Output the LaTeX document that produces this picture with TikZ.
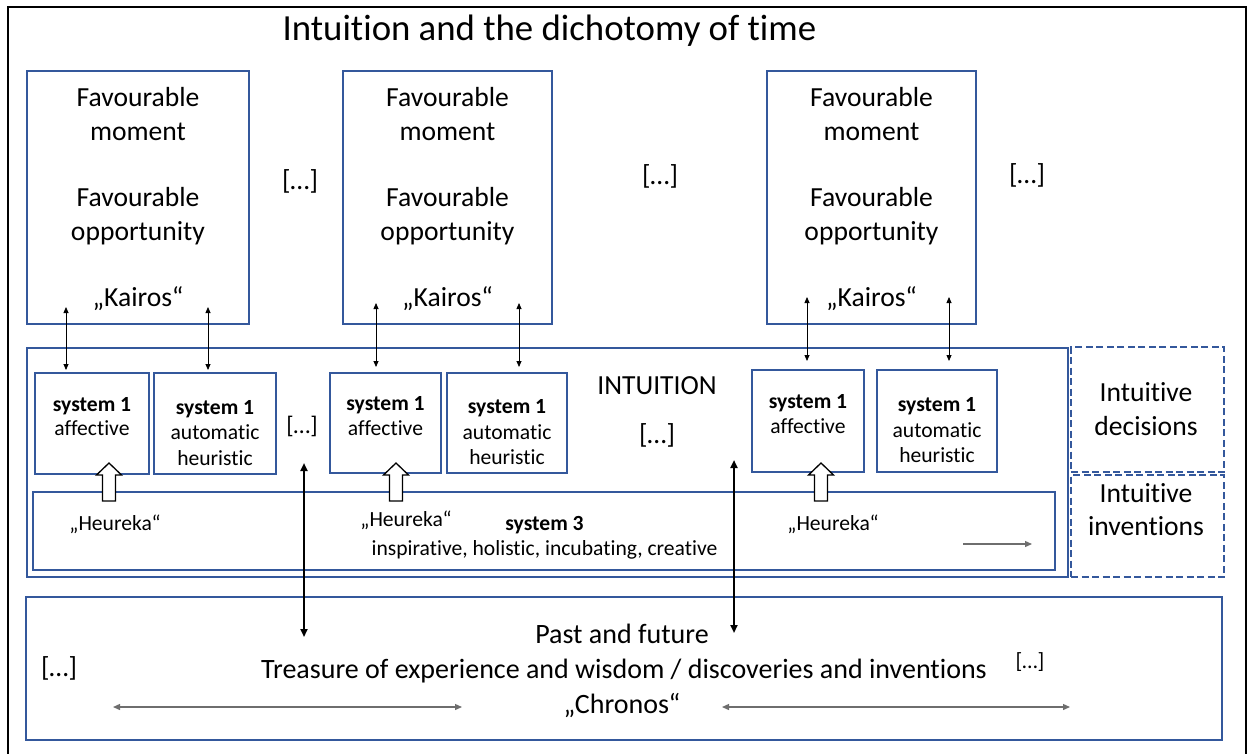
\documentclass[tikz,border=0pt]{standalone}
\usepackage{fontspec}
\setmainfont{Carlito}[Ligatures=NoCommon]
\usetikzlibrary{arrows.meta,calc}
\definecolor{bblue}{RGB}{52,88,156}
\definecolor{agrey}{RGB}{110,110,110}
\tikzset{
  bx/.style={draw=bblue, line width=1.4pt, inner sep=0pt, rectangle},
  dbx/.style={draw=bblue, line width=2.2pt, dash pattern=on 7pt off 3.5pt, inner sep=0pt, rectangle},
  big/.style={font=\fontsize{27.6}{33}\selectfont, anchor=base, inner sep=0pt},
  bigb/.style={font=\fontsize{28}{33}\selectfont, anchor=base, inner sep=0pt},
  med/.style={font=\fontsize{21.6}{25}\selectfont, anchor=base, inner sep=0pt},
  thinarr/.style={{Triangle[length=6pt,width=5pt]}-{Triangle[length=6pt,width=5pt]}, line width=0.8pt},
  longarr/.style={{Triangle[length=8pt,width=7pt]}-{Triangle[length=8pt,width=7pt]}, line width=2pt},
  greyarr/.style={draw=agrey, line width=1.3pt, {Triangle[length=7pt,width=6pt]}-{Triangle[length=7pt,width=6pt]}},
  greyone/.style={draw=agrey, line width=1.3pt, -{Triangle[length=7pt,width=6pt]}},
  hollow/.style={draw=black, line width=1.3pt, fill=white, line join=miter}
}
\begin{document}
\begin{tikzpicture}[x=1pt,y=-1pt]
\useasboundingbox (0,0) rectangle (1250,753);
% outer frame
\node[draw=black, line width=2pt, inner sep=0pt, minimum width=1238pt, minimum height=770pt, anchor=north west] (frame) at (7,6) {};
% title
\node[font=\fontsize{36.8}{44}\selectfont, anchor=base, inner sep=0pt] (title) at (549.5,40.7) {Intuition and the dichotomy of time};

% Kairos boxes
\node[bx, minimum width=222pt, minimum height=253pt] (k1) at (138,197.5) {};
\node[bx, minimum width=209pt, minimum height=253pt] (k2) at (447.5,197.5) {};
\node[bx, minimum width=209pt, minimum height=253pt] (k3) at (871.5,197.5) {};
\foreach \b/\cx in {1/138,2/447.5,3/871.5}{
  \node[big] (k\b a) at (\cx,106.7) {Favourable};
  \node[big] (k\b b) at (\cx,140) {moment};
  \node[big] (k\b c) at (\cx,206.7) {Favourable};
  \node[big] (k\b d) at (\cx,240) {opportunity};
  \node[big] (k\b e) at (\cx,306.6) {„Kairos“};
}
\node[big] (dots1) at (300,189) {[…]};
\node[big] (dots2) at (660,184.5) {[…]};
\node[big] (dots3) at (1027,183.5) {[…]};

% intuition box
\node[bx, minimum width=1041pt, minimum height=229pt] (intu) at (547.5,462.5) {};
\node[big] (intut) at (657,394) {INTUITION};
\node[big] (dots5) at (657,443.5) {[…]};
\node[font=\fontsize{24}{28}\selectfont, anchor=base, inner sep=0pt] (dots4) at (302,433.5) {[…]};

% system 1 boxes
\node[bx, minimum width=114pt, minimum height=101pt] (L1) at (92,423.5) {};
\node[bx, minimum width=122pt, minimum height=101pt] (L2) at (215,423.5) {};
\node[bx, minimum width=111pt, minimum height=100pt] (M1) at (385.5,423) {};
\node[bx, minimum width=120pt, minimum height=100pt] (M2) at (507,423) {};
\node[bx, minimum width=112pt, minimum height=102pt] (R1) at (808,421) {};
\node[bx, minimum width=120pt, minimum height=102pt] (R2) at (937,421) {};

\node[med] (L1a) at (92,411) {\textbf{system 1}};
\node[med] (L1b) at (92,435) {affective};
\node[med] (L2a) at (215,414) {\textbf{system 1}};
\node[med] (L2b) at (215,439) {automatic};
\node[med] (L2c) at (215,465) {heuristic};
\node[med] (M1a) at (385.5,410) {\textbf{system 1}};
\node[med] (M1b) at (385.5,435) {affective};
\node[med] (M2a) at (507,413) {\textbf{system 1}};
\node[med] (M2b) at (507,439) {automatic};
\node[med] (M2c) at (507,464) {heuristic};
\node[med] (R1a) at (808,408) {\textbf{system 1}};
\node[med] (R1b) at (808,433) {affective};
\node[med] (R2a) at (937,411) {\textbf{system 1}};
\node[med] (R2b) at (937,437) {automatic};
\node[med] (R2c) at (937,462) {heuristic};

% system 3 box
\node[bx, minimum width=1022pt, minimum height=78pt] (s3) at (544,531) {};
\node[med] (s3a) at (544.5,530) {\textbf{system 3}};
\node[med] (s3b) at (544.5,555) {inspirative, holistic, incubating, creative};
\node[med] (h1) at (115,530) {„Heureka“};
\node[med] (h2) at (406,526.7) {„Heureka“};
\node[med] (h3) at (833,530) {„Heureka“};
\coordinate (sa1) at (963,544);
\coordinate (sa2) at (1032,544);
\draw[greyone] (sa1) -- (sa2);

% hollow arrows
\foreach \n/\x in {1/109,2/396,3/821}{
  \coordinate (hb\n) at (\x,501);
  \coordinate (ht\n) at (\x,463);
  \draw[hollow] ($(hb\n)+(-6.5,0)$) -- ($(ht\n)+(-6.5,12)$) -- ($(ht\n)+(-12.5,12)$) -- (ht\n) -- ($(ht\n)+(12.5,12)$) -- ($(ht\n)+(6.5,12)$) -- ($(hb\n)+(6.5,0)$) -- cycle;
}

% dashed boxes
\node[dbx, minimum width=153pt, minimum height=125pt] (dec) at (1147.5,409.5) {};
\node[dbx, minimum width=153pt, minimum height=102pt] (inv) at (1147.5,526) {};
\node[big] (deca) at (1146,401.7) {Intuitive};
\node[big] (decb) at (1146,435) {decisions};
\node[big] (inva) at (1146,502) {Intuitive};
\node[big] (invb) at (1146,535) {inventions};

% bottom box
\node[bx, minimum width=1196pt, minimum height=143pt] (chr) at (624,668.5) {};
\node[bigb] (ca) at (622,643) {Past and future};
\node[bigb] (cb) at (624,678.3) {Treasure of experience and wisdom / discoveries and inventions};
\node[bigb] (cc) at (622,713) {„Chronos“};
\node[big] (dots6) at (59,676) {[…]};
\node[font=\fontsize{22}{26}\selectfont, anchor=base, inner sep=0pt] (dots7) at (1030,668) {[…]};

% top double arrows
\foreach \n/\x/\ya/\yb in {1/66/307/370,2/208/307/370,3/376/303/367,4/519/303/367,5/807/297/361,6/949/297/361}{
  \coordinate (ta\n) at (\x,\ya);
  \coordinate (tb\n) at (\x,\yb);
  \draw[thinarr] (ta\n) -- (tb\n);
}
% long arrows
\coordinate (la1) at (304,463);
\coordinate (lb1) at (304,637);
\coordinate (la2) at (734,460);
\coordinate (lb2) at (734,633);
\draw[longarr] (la1) -- (lb1);
\draw[longarr] (la2) -- (lb2);
% bottom arrows
\coordinate (ba1) at (113,707);
\coordinate (bb1) at (462,707);
\coordinate (ba2) at (722,707);
\coordinate (bb2) at (1070,707);
\draw[greyarr] (ba1) -- (bb1);
\draw[greyarr] (ba2) -- (bb2);
\end{tikzpicture}
\end{document}
